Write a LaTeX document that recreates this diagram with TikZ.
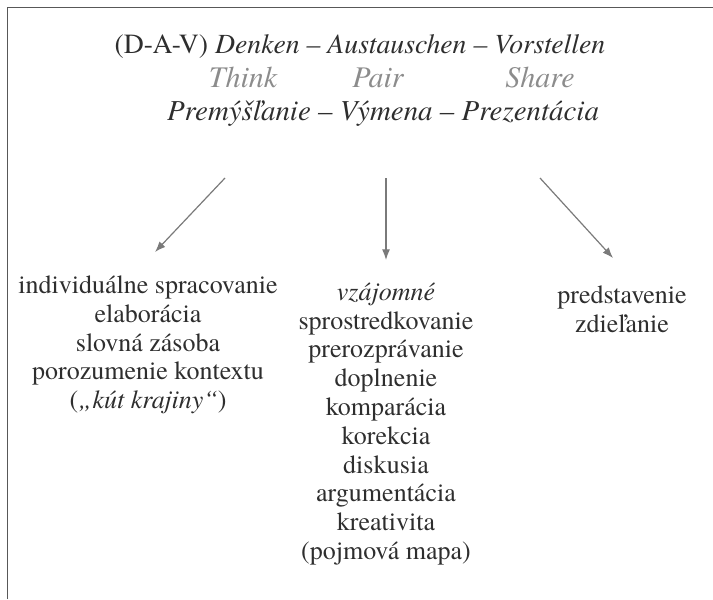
\documentclass[tikz,border=0pt]{standalone}
\usepackage{fontspec}
\setmainfont{texgyretermes-regular.otf}[
  ItalicFont=texgyretermes-italic.otf,
  BoldFont=texgyretermes-bold.otf,
  BoldItalicFont=texgyretermes-bolditalic.otf]
\usetikzlibrary{arrows.meta}

\definecolor{ink}{HTML}{2E2E2E}
\definecolor{soft}{HTML}{8C8C8C}
\definecolor{arrowgray}{HTML}{7A7A7A}

\tikzset{
  heading/.style={text=ink, font=\fontsize{20.8}{25}\selectfont, inner sep=0pt, anchor=base},
  gloss/.style={text=soft, font=\fontsize{22.5}{27}\selectfont\itshape, inner sep=0pt, anchor=base},
  column/.style={text=ink, align=center, font=\fontsize{19.5}{21.6}\selectfont, inner sep=0pt},
  arr/.style={draw=arrowgray, line width=0.9pt, -{Latex[length=8pt,width=6pt]}},
  frame/.style={draw=ink!80, line width=1.3pt}
}

\begin{document}
\begin{tikzpicture}[x=0.75pt,y=-0.75pt]
        \useasboundingbox (0,0) rectangle (713,599);
        \draw[frame] (7.5,599) -- (7.5,7.5) -- (713,7.5);

        \node[heading] (dav) at (360,54) {(D-A-V) \textit{Denken -- Austauschen -- Vorstellen}};
        \node[gloss] (think) at (243,88) {Think};
        \node[gloss] (pair) at (378,88) {Pair};
        \node[gloss] (share) at (540,88) {Share};
        \node[heading, font=\fontsize{21.7}{26}\selectfont] (sk) at (383,121) {\textit{Premýšľanie -- Výmena -- Prezentácia}};

        \node[column] (indiv) at (148,345) {individuálne spracovanie\\ elaborácia\\ slovná zásoba\\
          porozumenie kontextu\\ (\textit{„kút krajiny“})};
        \node[column] (vzaj) at (386,424) {\textit{vzájomné}\\ sprostredkovanie\\ prerozprávanie\\ doplnenie\\
          komparácia\\ korekcia\\ diskusia\\ argumentácia\\ kreativita\\ (pojmová mapa)};
        \node[column] (pred) at (622,309) {predstavenie\\ zdieľanie};

        \foreach \sx/\ex/\ey [count=\i] in {225/155/252, 386/386/260, 540/613/258}{
          \coordinate (s\i) at (\sx,178);
          \coordinate (e\i) at (\ex,\ey);
          \draw[arr] (s\i) -- (e\i);
        }
\end{tikzpicture}
\end{document}
